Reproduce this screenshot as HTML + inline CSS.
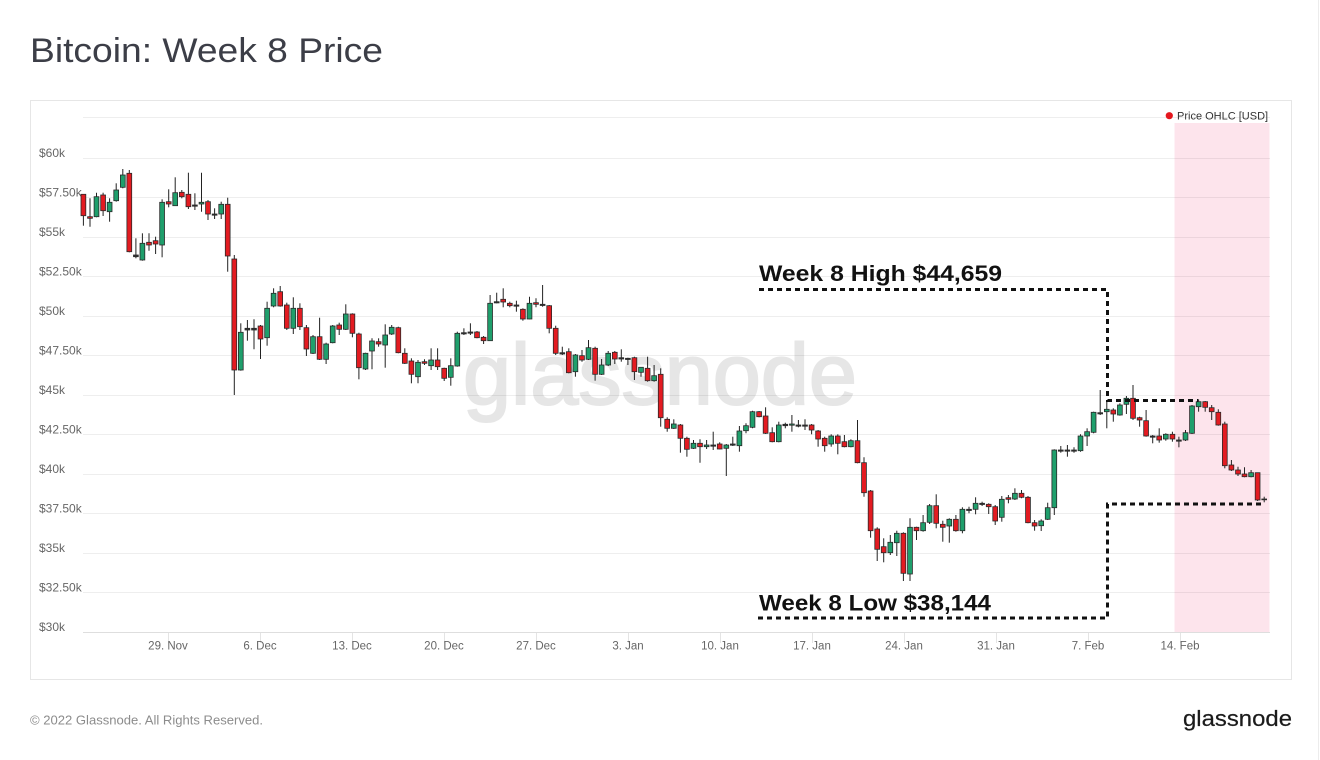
<!DOCTYPE html>
<html><head><meta charset="utf-8"><style>
html,body{margin:0;padding:0;background:#fff;}
body{width:1320px;height:760px;overflow:hidden;}
svg{display:block;font-family:"Liberation Sans",Arial,sans-serif;}
.cd path{stroke:#222;stroke-width:1;fill:none;}
.cd rect{stroke:#2a2a2a;stroke-width:.8;}
.r{fill:#e31b21;}
.g{fill:#1f9f6c;}
.d{fill:#333;}
.yl{font-size:12px;fill:#666;}
.xl{font-size:11.5px;fill:#666;text-anchor:middle;}
</style></head><body>
<svg width="1320" height="760" viewBox="0 0 1320 760" xmlns="http://www.w3.org/2000/svg">
<rect width="1320" height="760" fill="#fff"/>
<line x1="1318.5" y1="0" x2="1318.5" y2="760" stroke="#ececec"/>
<text x="30" y="62" font-size="34" fill="#3c3e47" textLength="353" lengthAdjust="spacingAndGlyphs">Bitcoin: Week 8 Price</text>
<rect x="30.5" y="100.5" width="1261" height="579" fill="none" stroke="#e6e6e6"/>
<rect x="1174.5" y="123" width="95" height="509.5" fill="#fde4ec"/>
<text x="463" y="404" font-size="86" fill="#e6e6e6" stroke="#e6e6e6" stroke-width="2" textLength="394" lengthAdjust="spacingAndGlyphs">glassnode</text>
<g stroke="#000" stroke-opacity="0.065" stroke-width="1">
<line x1="83" x2="1270" y1="117.5" y2="117.5"/>
<line x1="83" x2="1270" y1="158.5" y2="158.5"/>
<line x1="83" x2="1270" y1="197.5" y2="197.5"/>
<line x1="83" x2="1270" y1="237.5" y2="237.5"/>
<line x1="83" x2="1270" y1="276.5" y2="276.5"/>
<line x1="83" x2="1270" y1="316.5" y2="316.5"/>
<line x1="83" x2="1270" y1="355.5" y2="355.5"/>
<line x1="83" x2="1270" y1="395.5" y2="395.5"/>
<line x1="83" x2="1270" y1="434.5" y2="434.5"/>
<line x1="83" x2="1270" y1="474.5" y2="474.5"/>
<line x1="83" x2="1270" y1="513.5" y2="513.5"/>
<line x1="83" x2="1270" y1="553.5" y2="553.5"/>
<line x1="83" x2="1270" y1="592.5" y2="592.5"/>
</g>
<line x1="83" x2="1270" y1="632.5" y2="632.5" stroke="#dedede"/>
<g stroke="#e4e4e4">
<line x1="168.5" x2="168.5" y1="633" y2="643"/><line x1="260.5" x2="260.5" y1="633" y2="643"/>
<line x1="352.5" x2="352.5" y1="633" y2="643"/><line x1="444.5" x2="444.5" y1="633" y2="643"/>
<line x1="536.5" x2="536.5" y1="633" y2="643"/><line x1="628.5" x2="628.5" y1="633" y2="643"/>
<line x1="720.5" x2="720.5" y1="633" y2="643"/><line x1="812.5" x2="812.5" y1="633" y2="643"/>
<line x1="904.5" x2="904.5" y1="633" y2="643"/><line x1="996.5" x2="996.5" y1="633" y2="643"/>
<line x1="1088.5" x2="1088.5" y1="633" y2="643"/><line x1="1180.5" x2="1180.5" y1="633" y2="643"/>
</g>
<text class="yl" x="39" y="157">$60k</text>
<text class="yl" x="39" y="196.5">$57.50k</text>
<text class="yl" x="39" y="236">$55k</text>
<text class="yl" x="39" y="275.5">$52.50k</text>
<text class="yl" x="39" y="315">$50k</text>
<text class="yl" x="39" y="354.5">$47.50k</text>
<text class="yl" x="39" y="394">$45k</text>
<text class="yl" x="39" y="433.5">$42.50k</text>
<text class="yl" x="39" y="473">$40k</text>
<text class="yl" x="39" y="512.5">$37.50k</text>
<text class="yl" x="39" y="552">$35k</text>
<text class="yl" x="39" y="591.5">$32.50k</text>
<text class="yl" x="39" y="631">$30k</text>
<text class="xl" x="168" y="649.5">29. Nov</text>
<text class="xl" x="260" y="649.5">6. Dec</text>
<text class="xl" x="352" y="649.5">13. Dec</text>
<text class="xl" x="444" y="649.5">20. Dec</text>
<text class="xl" x="536" y="649.5">27. Dec</text>
<text class="xl" x="628" y="649.5">3. Jan</text>
<text class="xl" x="720" y="649.5">10. Jan</text>
<text class="xl" x="812" y="649.5">17. Jan</text>
<text class="xl" x="904" y="649.5">24. Jan</text>
<text class="xl" x="996" y="649.5">31. Jan</text>
<text class="xl" x="1088" y="649.5">7. Feb</text>
<text class="xl" x="1180" y="649.5">14. Feb</text>
<circle cx="1169.3" cy="115.7" r="3.6" fill="#e5171e"/>
<text x="1177" y="119.5" font-size="11" fill="#333">Price OHLC [USD]</text>
<g class="cd">
<g transform="translate(83.4)"><path d="M0 194.3V225.7"/><rect x="-2.4" width="4.8" class="r" y="194.3" height="21.4"/></g>
<g transform="translate(90.0)"><path d="M0 198.3V226.7"/><rect x="-2.4" width="4.8" class="r" y="216.7" height="1.6"/></g>
<g transform="translate(96.5)"><path d="M0 192.7V217.3"/><rect x="-2.4" width="4.8" class="g" y="196.7" height="20"/></g>
<g transform="translate(103.1)"><path d="M0 192.7V216"/><rect x="-2.4" width="4.8" class="r" y="195" height="15.7"/></g>
<g transform="translate(109.6)"><path d="M0 198.3V221.7"/><rect x="-2.4" width="4.8" class="g" y="202.3" height="9.4"/></g>
<g transform="translate(116.2)"><path d="M0 183.3V201.7"/><rect x="-2.4" width="4.8" class="g" y="190" height="10.7"/></g>
<g transform="translate(122.8)"><path d="M0 169V188.3"/><rect x="-2.4" width="4.8" class="g" y="175" height="12.3"/></g>
<g transform="translate(129.3)"><path d="M0 170V252.3"/><rect x="-2.4" width="4.8" class="r" y="173.3" height="78.4"/></g>
<g transform="translate(135.9)"><path d="M0 238.3V258.3"/><rect x="-2.4" width="4.8" class="d" y="255" height="1.7"/></g>
<g transform="translate(142.4)"><path d="M0 233.3V260.7"/><rect x="-2.4" width="4.8" class="g" y="243.3" height="16.7"/></g>
<g transform="translate(149.0)"><path d="M0 233.3V250.7"/><rect x="-2.4" width="4.8" class="r" y="242.3" height="2.7"/></g>
<g transform="translate(155.6)"><path d="M0 236.7V254"/><rect x="-2.4" width="4.8" class="r" y="240.7" height="3.3"/></g>
<g transform="translate(162.1)"><path d="M0 199.3V257.3"/><rect x="-2.4" width="4.8" class="g" y="202.3" height="42.7"/></g>
<g transform="translate(168.7)"><path d="M0 189.3V207.3"/><rect x="-2.4" width="4.8" class="r" y="201.7" height="2.3"/></g>
<g transform="translate(175.2)"><path d="M0 177.3V206"/><rect x="-2.4" width="4.8" class="g" y="192.7" height="13"/></g>
<g transform="translate(181.8)"><path d="M0 190V198.3"/><rect x="-2.4" width="4.8" class="r" y="192.3" height="4.4"/></g>
<g transform="translate(188.4)"><path d="M0 172.7V209"/><rect x="-2.4" width="4.8" class="r" y="194.3" height="12.4"/></g>
<g transform="translate(194.9)"><path d="M0 193.3V210"/><rect x="-2.4" width="4.8" class="d" y="205" height="1.2"/></g>
<g transform="translate(201.5)"><path d="M0 172.7V211.7"/><rect x="-2.4" width="4.8" class="g" y="202.3" height="1.7"/></g>
<g transform="translate(208.0)"><path d="M0 200V220"/><rect x="-2.4" width="4.8" class="r" y="201.7" height="12.3"/></g>
<g transform="translate(214.6)"><path d="M0 208.3V219"/><rect x="-2.4" width="4.8" class="d" y="214" height="1.2"/></g>
<g transform="translate(221.2)"><path d="M0 201.7V219"/><rect x="-2.4" width="4.8" class="g" y="204.3" height="9.7"/></g>
<g transform="translate(227.7)"><path d="M0 197.7V271.7"/><rect x="-2.4" width="4.8" class="r" y="204.3" height="51.7"/></g>
<g transform="translate(234.3)"><path d="M0 255V395"/><rect x="-2.4" width="4.8" class="r" y="259" height="111"/></g>
<g transform="translate(240.8)"><path d="M0 323.3V370.7"/><rect x="-2.4" width="4.8" class="g" y="332.3" height="37.7"/></g>
<g transform="translate(247.4)"><path d="M0 320V340.7"/><rect x="-2.4" width="4.8" class="d" y="328.3" height="1.7"/></g>
<g transform="translate(254.0)"><path d="M0 319.3V349.3"/><rect x="-2.4" width="4.8" class="d" y="328.3" height="1.7"/></g>
<g transform="translate(260.5)"><path d="M0 325V359"/><rect x="-2.4" width="4.8" class="r" y="326" height="13"/></g>
<g transform="translate(267.1)"><path d="M0 301.7V345.7"/><rect x="-2.4" width="4.8" class="g" y="308.3" height="29.4"/></g>
<g transform="translate(273.6)"><path d="M0 288.3V307.3"/><rect x="-2.4" width="4.8" class="g" y="293.3" height="12.7"/></g>
<g transform="translate(280.2)"><path d="M0 286V306.7"/><rect x="-2.4" width="4.8" class="r" y="291.7" height="14.3"/></g>
<g transform="translate(286.8)"><path d="M0 302.7V330"/><rect x="-2.4" width="4.8" class="r" y="305" height="23.3"/></g>
<g transform="translate(293.3)"><path d="M0 297.3V334"/><rect x="-2.4" width="4.8" class="g" y="308.3" height="20"/></g>
<g transform="translate(299.9)"><path d="M0 303.3V330"/><rect x="-2.4" width="4.8" class="r" y="308.3" height="18.4"/></g>
<g transform="translate(306.4)"><path d="M0 325V356"/><rect x="-2.4" width="4.8" class="r" y="327.7" height="21.3"/></g>
<g transform="translate(313.0)"><path d="M0 335V354"/><rect x="-2.4" width="4.8" class="g" y="336.7" height="16.6"/></g>
<g transform="translate(319.6)"><path d="M0 317.7V360"/><rect x="-2.4" width="4.8" class="r" y="336.7" height="22.6"/></g>
<g transform="translate(326.1)"><path d="M0 342.7V364"/><rect x="-2.4" width="4.8" class="g" y="344" height="15.3"/></g>
<g transform="translate(332.7)"><path d="M0 325V343.3"/><rect x="-2.4" width="4.8" class="g" y="326" height="16.7"/></g>
<g transform="translate(339.2)"><path d="M0 322.7V335"/><rect x="-2.4" width="4.8" class="r" y="325" height="4.3"/></g>
<g transform="translate(345.8)"><path d="M0 304.3V330"/><rect x="-2.4" width="4.8" class="g" y="314" height="15.3"/></g>
<g transform="translate(352.4)"><path d="M0 313.3V337.3"/><rect x="-2.4" width="4.8" class="r" y="314" height="19.3"/></g>
<g transform="translate(358.9)"><path d="M0 332.7V379.3"/><rect x="-2.4" width="4.8" class="r" y="334" height="33.7"/></g>
<g transform="translate(365.5)"><path d="M0 352.7V370"/><rect x="-2.4" width="4.8" class="g" y="353.3" height="15.7"/></g>
<g transform="translate(372.0)"><path d="M0 338.3V369.3"/><rect x="-2.4" width="4.8" class="g" y="341" height="10"/></g>
<g transform="translate(378.6)"><path d="M0 338.3V346.7"/><rect x="-2.4" width="4.8" class="r" y="341.7" height="2.3"/></g>
<g transform="translate(385.2)"><path d="M0 324.3V367.7"/><rect x="-2.4" width="4.8" class="g" y="335" height="10"/></g>
<g transform="translate(391.7)"><path d="M0 325V335"/><rect x="-2.4" width="4.8" class="g" y="327.3" height="6.7"/></g>
<g transform="translate(398.3)"><path d="M0 326.7V353.3"/><rect x="-2.4" width="4.8" class="r" y="327.7" height="25"/></g>
<g transform="translate(404.8)"><path d="M0 348.3V364"/><rect x="-2.4" width="4.8" class="r" y="353.3" height="10"/></g>
<g transform="translate(411.4)"><path d="M0 358.3V383.3"/><rect x="-2.4" width="4.8" class="r" y="361" height="13.3"/></g>
<g transform="translate(418.0)"><path d="M0 360V383.3"/><rect x="-2.4" width="4.8" class="g" y="362.3" height="14.4"/></g>
<g transform="translate(424.5)"><path d="M0 359.3V365"/><rect x="-2.4" width="4.8" class="r" y="361.7" height="1.6"/></g>
<g transform="translate(431.1)"><path d="M0 348.3V370"/><rect x="-2.4" width="4.8" class="g" y="360" height="5.7"/></g>
<g transform="translate(437.6)"><path d="M0 348.3V370"/><rect x="-2.4" width="4.8" class="r" y="360" height="6.7"/></g>
<g transform="translate(444.2)"><path d="M0 367.7V381"/><rect x="-2.4" width="4.8" class="r" y="368.3" height="10"/></g>
<g transform="translate(450.8)"><path d="M0 358.3V385.7"/><rect x="-2.4" width="4.8" class="g" y="365.7" height="11.6"/></g>
<g transform="translate(457.3)"><path d="M0 331.7V366.7"/><rect x="-2.4" width="4.8" class="g" y="333.3" height="32.7"/></g>
<g transform="translate(463.9)"><path d="M0 328.3V335"/><rect x="-2.4" width="4.8" class="d" y="332.7" height="1.2"/></g>
<g transform="translate(470.4)"><path d="M0 323.3V335"/><rect x="-2.4" width="4.8" class="d" y="332" height="1.2"/></g>
<g transform="translate(477.0)"><path d="M0 331V338.3"/><rect x="-2.4" width="4.8" class="r" y="332" height="5.7"/></g>
<g transform="translate(483.6)"><path d="M0 336V344"/><rect x="-2.4" width="4.8" class="r" y="337.3" height="3.4"/></g>
<g transform="translate(490.1)"><path d="M0 295V341"/><rect x="-2.4" width="4.8" class="g" y="303.3" height="37.4"/></g>
<g transform="translate(496.7)"><path d="M0 292.7V303.3"/><rect x="-2.4" width="4.8" class="d" y="301.7" height="1.2"/></g>
<g transform="translate(503.2)"><path d="M0 288.3V307.3"/><rect x="-2.4" width="4.8" class="r" y="299.3" height="2.7"/></g>
<g transform="translate(509.8)"><path d="M0 301.7V307.3"/><rect x="-2.4" width="4.8" class="r" y="303.3" height="2.4"/></g>
<g transform="translate(516.4)"><path d="M0 300.7V311.7"/><rect x="-2.4" width="4.8" class="d" y="305" height="1.2"/></g>
<g transform="translate(522.9)"><path d="M0 308.3V320.7"/><rect x="-2.4" width="4.8" class="r" y="309.3" height="9.7"/></g>
<g transform="translate(529.5)"><path d="M0 296.7V319.3"/><rect x="-2.4" width="4.8" class="g" y="303.3" height="15.7"/></g>
<g transform="translate(536.0)"><path d="M0 298.3V307.3"/><rect x="-2.4" width="4.8" class="r" y="302.7" height="1.6"/></g>
<g transform="translate(542.6)"><path d="M0 285V306.7"/><rect x="-2.4" width="4.8" class="d" y="304.3" height="1.2"/></g>
<g transform="translate(549.2)"><path d="M0 305V333.3"/><rect x="-2.4" width="4.8" class="r" y="305.7" height="22.6"/></g>
<g transform="translate(555.7)"><path d="M0 325.7V355"/><rect x="-2.4" width="4.8" class="r" y="328.3" height="25"/></g>
<g transform="translate(562.3)"><path d="M0 346.7V355"/><rect x="-2.4" width="4.8" class="d" y="352.7" height="1.3"/></g>
<g transform="translate(568.8)"><path d="M0 348.3V373.3"/><rect x="-2.4" width="4.8" class="r" y="351.7" height="21"/></g>
<g transform="translate(575.4)"><path d="M0 354V376.7"/><rect x="-2.4" width="4.8" class="g" y="355" height="16.7"/></g>
<g transform="translate(582.0)"><path d="M0 350V361.7"/><rect x="-2.4" width="4.8" class="r" y="355.7" height="4.3"/></g>
<g transform="translate(588.5)"><path d="M0 340V360"/><rect x="-2.4" width="4.8" class="g" y="347.7" height="11.6"/></g>
<g transform="translate(595.1)"><path d="M0 346.7V380.7"/><rect x="-2.4" width="4.8" class="r" y="348.3" height="26"/></g>
<g transform="translate(601.6)"><path d="M0 359V375"/><rect x="-2.4" width="4.8" class="g" y="365" height="9.3"/></g>
<g transform="translate(608.2)"><path d="M0 351V366"/><rect x="-2.4" width="4.8" class="g" y="353.3" height="11.7"/></g>
<g transform="translate(614.8)"><path d="M0 351V364"/><rect x="-2.4" width="4.8" class="r" y="352.3" height="6.7"/></g>
<g transform="translate(621.3)"><path d="M0 349.3V361.7"/><rect x="-2.4" width="4.8" class="d" y="357.7" height="1.3"/></g>
<g transform="translate(627.9)"><path d="M0 357.7V365"/><rect x="-2.4" width="4.8" class="d" y="358.3" height="1.2"/></g>
<g transform="translate(634.4)"><path d="M0 356.7V380"/><rect x="-2.4" width="4.8" class="r" y="357.7" height="14"/></g>
<g transform="translate(641.0)"><path d="M0 367.3V376.7"/><rect x="-2.4" width="4.8" class="g" y="367.3" height="5"/></g>
<g transform="translate(647.6)"><path d="M0 356.7V381.7"/><rect x="-2.4" width="4.8" class="r" y="368.3" height="12.4"/></g>
<g transform="translate(654.1)"><path d="M0 365V381.7"/><rect x="-2.4" width="4.8" class="g" y="375.7" height="5"/></g>
<g transform="translate(660.7)"><path d="M0 368.3V426.7"/><rect x="-2.4" width="4.8" class="r" y="374.3" height="43.4"/></g>
<g transform="translate(667.2)"><path d="M0 417.3V431.7"/><rect x="-2.4" width="4.8" class="r" y="419.3" height="9"/></g>
<g transform="translate(673.8)"><path d="M0 419.3V429"/><rect x="-2.4" width="4.8" class="g" y="424" height="4.3"/></g>
<g transform="translate(680.4)"><path d="M0 424V452.7"/><rect x="-2.4" width="4.8" class="r" y="425" height="13.3"/></g>
<g transform="translate(686.9)"><path d="M0 436.7V456.7"/><rect x="-2.4" width="4.8" class="r" y="438.3" height="11"/></g>
<g transform="translate(693.5)"><path d="M0 440V449"/><rect x="-2.4" width="4.8" class="g" y="443.3" height="5"/></g>
<g transform="translate(700.0)"><path d="M0 439.3V462.7"/><rect x="-2.4" width="4.8" class="r" y="443.3" height="3.4"/></g>
<g transform="translate(706.6)"><path d="M0 440V449"/><rect x="-2.4" width="4.8" class="g" y="445" height="1.7"/></g>
<g transform="translate(713.2)"><path d="M0 431.7V450"/><rect x="-2.4" width="4.8" class="d" y="445" height="1.2"/></g>
<g transform="translate(719.7)"><path d="M0 442.3V449.3"/><rect x="-2.4" width="4.8" class="r" y="444" height="5"/></g>
<g transform="translate(726.3)"><path d="M0 444V476"/><rect x="-2.4" width="4.8" class="g" y="445" height="3.3"/></g>
<g transform="translate(732.8)"><path d="M0 436.7V446"/><rect x="-2.4" width="4.8" class="d" y="444" height="1.2"/></g>
<g transform="translate(739.4)"><path d="M0 426V451.7"/><rect x="-2.4" width="4.8" class="g" y="431" height="14.7"/></g>
<g transform="translate(746.0)"><path d="M0 423.3V433.3"/><rect x="-2.4" width="4.8" class="g" y="425.7" height="5"/></g>
<g transform="translate(752.5)"><path d="M0 410.7V428.3"/><rect x="-2.4" width="4.8" class="g" y="411.7" height="15.6"/></g>
<g transform="translate(759.1)"><path d="M0 411V417.3"/><rect x="-2.4" width="4.8" class="r" y="411.7" height="5"/></g>
<g transform="translate(765.6)"><path d="M0 407.3V434"/><rect x="-2.4" width="4.8" class="r" y="416" height="17.3"/></g>
<g transform="translate(772.2)"><path d="M0 427.3V442.3"/><rect x="-2.4" width="4.8" class="r" y="432.7" height="9"/></g>
<g transform="translate(778.8)"><path d="M0 421.7V442.3"/><rect x="-2.4" width="4.8" class="g" y="425" height="16.7"/></g>
<g transform="translate(785.3)"><path d="M0 422.7V428.3"/><rect x="-2.4" width="4.8" class="d" y="424.3" height="1.4"/></g>
<g transform="translate(791.9)"><path d="M0 415V431.7"/><rect x="-2.4" width="4.8" class="g" y="424" height="1.2"/></g>
<g transform="translate(798.4)"><path d="M0 420V427.3"/><rect x="-2.4" width="4.8" class="d" y="425" height="1.2"/></g>
<g transform="translate(805.0)"><path d="M0 419.3V430"/><rect x="-2.4" width="4.8" class="d" y="425" height="1.2"/></g>
<g transform="translate(811.6)"><path d="M0 424V434.3"/><rect x="-2.4" width="4.8" class="r" y="425" height="5"/></g>
<g transform="translate(818.1)"><path d="M0 430V446.7"/><rect x="-2.4" width="4.8" class="r" y="431" height="8"/></g>
<g transform="translate(824.7)"><path d="M0 436.7V451.7"/><rect x="-2.4" width="4.8" class="r" y="438.3" height="7.4"/></g>
<g transform="translate(831.2)"><path d="M0 434.3V446.7"/><rect x="-2.4" width="4.8" class="g" y="436" height="8"/></g>
<g transform="translate(837.8)"><path d="M0 434.3V454.3"/><rect x="-2.4" width="4.8" class="r" y="436" height="7.3"/></g>
<g transform="translate(844.4)"><path d="M0 435V447.3"/><rect x="-2.4" width="4.8" class="r" y="441.7" height="5"/></g>
<g transform="translate(850.9)"><path d="M0 439.3V447.3"/><rect x="-2.4" width="4.8" class="g" y="440.7" height="6"/></g>
<g transform="translate(857.5)"><path d="M0 420V463.3"/><rect x="-2.4" width="4.8" class="r" y="440.7" height="22"/></g>
<g transform="translate(864.0)"><path d="M0 457.3V496.7"/><rect x="-2.4" width="4.8" class="r" y="462.7" height="30"/></g>
<g transform="translate(870.6)"><path d="M0 490V537.7"/><rect x="-2.4" width="4.8" class="r" y="491" height="39.7"/></g>
<g transform="translate(877.2)"><path d="M0 527.3V561"/><rect x="-2.4" width="4.8" class="r" y="529" height="20.3"/></g>
<g transform="translate(883.7)"><path d="M0 538.3V562.3"/><rect x="-2.4" width="4.8" class="r" y="546.7" height="6"/></g>
<g transform="translate(890.3)"><path d="M0 535V555"/><rect x="-2.4" width="4.8" class="g" y="542.3" height="10.4"/></g>
<g transform="translate(896.8)"><path d="M0 530.7V556"/><rect x="-2.4" width="4.8" class="g" y="533.3" height="9.4"/></g>
<g transform="translate(903.4)"><path d="M0 532.3V581"/><rect x="-2.4" width="4.8" class="r" y="533.3" height="40"/></g>
<g transform="translate(910.0)"><path d="M0 518.3V581"/><rect x="-2.4" width="4.8" class="g" y="527.3" height="46.7"/></g>
<g transform="translate(916.5)"><path d="M0 526.7V540"/><rect x="-2.4" width="4.8" class="r" y="527.3" height="3.4"/></g>
<g transform="translate(923.1)"><path d="M0 515V531.7"/><rect x="-2.4" width="4.8" class="g" y="522.7" height="8"/></g>
<g transform="translate(929.6)"><path d="M0 504V524"/><rect x="-2.4" width="4.8" class="g" y="505.7" height="16.6"/></g>
<g transform="translate(936.2)"><path d="M0 494.3V528.3"/><rect x="-2.4" width="4.8" class="r" y="505.7" height="17.6"/></g>
<g transform="translate(942.8)"><path d="M0 520.7V541.7"/><rect x="-2.4" width="4.8" class="r" y="524.3" height="3"/></g>
<g transform="translate(949.3)"><path d="M0 518.3V542.7"/><rect x="-2.4" width="4.8" class="g" y="519.3" height="6.7"/></g>
<g transform="translate(955.9)"><path d="M0 515V531.7"/><rect x="-2.4" width="4.8" class="r" y="519.3" height="11.4"/></g>
<g transform="translate(962.4)"><path d="M0 507.3V533.3"/><rect x="-2.4" width="4.8" class="g" y="509.3" height="21.4"/></g>
<g transform="translate(969.0)"><path d="M0 506.7V513.3"/><rect x="-2.4" width="4.8" class="d" y="509.3" height="1.2"/></g>
<g transform="translate(975.6)"><path d="M0 497.3V514.3"/><rect x="-2.4" width="4.8" class="g" y="503.3" height="6"/></g>
<g transform="translate(982.1)"><path d="M0 501.7V506"/><rect x="-2.4" width="4.8" class="d" y="503.3" height="1.2"/></g>
<g transform="translate(988.7)"><path d="M0 503.3V514"/><rect x="-2.4" width="4.8" class="r" y="504.3" height="2.4"/></g>
<g transform="translate(995.2)"><path d="M0 505V525"/><rect x="-2.4" width="4.8" class="r" y="506.7" height="14.3"/></g>
<g transform="translate(1001.8)"><path d="M0 496V521.7"/><rect x="-2.4" width="4.8" class="g" y="499.3" height="18"/></g>
<g transform="translate(1008.4)"><path d="M0 495V503.3"/><rect x="-2.4" width="4.8" class="r" y="497.7" height="1.6"/></g>
<g transform="translate(1014.9)"><path d="M0 488.3V500"/><rect x="-2.4" width="4.8" class="g" y="493.3" height="5.7"/></g>
<g transform="translate(1021.5)"><path d="M0 490V498.3"/><rect x="-2.4" width="4.8" class="r" y="493.3" height="4"/></g>
<g transform="translate(1028.0)"><path d="M0 496V523.3"/><rect x="-2.4" width="4.8" class="r" y="497.3" height="25.4"/></g>
<g transform="translate(1034.6)"><path d="M0 520V530.7"/><rect x="-2.4" width="4.8" class="r" y="522.7" height="3.3"/></g>
<g transform="translate(1041.2)"><path d="M0 519.3V531"/><rect x="-2.4" width="4.8" class="g" y="521" height="4.7"/></g>
<g transform="translate(1047.7)"><path d="M0 502.7V520"/><rect x="-2.4" width="4.8" class="g" y="507.7" height="11.6"/></g>
<g transform="translate(1054.3)"><path d="M0 449.3V515"/><rect x="-2.4" width="4.8" class="g" y="450" height="57.7"/></g>
<g transform="translate(1060.8)"><path d="M0 446V452.7"/><rect x="-2.4" width="4.8" class="d" y="450" height="1.2"/></g>
<g transform="translate(1067.4)"><path d="M0 445V456.7"/><rect x="-2.4" width="4.8" class="d" y="450" height="1.2"/></g>
<g transform="translate(1074.0)"><path d="M0 447.3V452.7"/><rect x="-2.4" width="4.8" class="d" y="450" height="1.2"/></g>
<g transform="translate(1080.5)"><path d="M0 434.3V451.7"/><rect x="-2.4" width="4.8" class="g" y="436" height="14.7"/></g>
<g transform="translate(1087.1)"><path d="M0 428.3V446"/><rect x="-2.4" width="4.8" class="g" y="431.7" height="4.3"/></g>
<g transform="translate(1093.6)"><path d="M0 411.7V433.3"/><rect x="-2.4" width="4.8" class="g" y="412.3" height="20"/></g>
<g transform="translate(1100.2)"><path d="M0 390V415"/><rect x="-2.4" width="4.8" class="d" y="412.7" height="1.2"/></g>
<g transform="translate(1106.8)"><path d="M0 401.7V428.3"/><rect x="-2.4" width="4.8" class="g" y="409.3" height="2.4"/></g>
<g transform="translate(1113.3)"><path d="M0 408.3V421.7"/><rect x="-2.4" width="4.8" class="r" y="410" height="4"/></g>
<g transform="translate(1119.9)"><path d="M0 403.3V415.7"/><rect x="-2.4" width="4.8" class="g" y="405" height="10"/></g>
<g transform="translate(1126.4)"><path d="M0 396V414"/><rect x="-2.4" width="4.8" class="g" y="398.3" height="6"/></g>
<g transform="translate(1133.0)"><path d="M0 385V420"/><rect x="-2.4" width="4.8" class="r" y="398.3" height="20"/></g>
<g transform="translate(1139.6)"><path d="M0 416.7V426.7"/><rect x="-2.4" width="4.8" class="r" y="417.7" height="2.3"/></g>
<g transform="translate(1146.1)"><path d="M0 410V436.7"/><rect x="-2.4" width="4.8" class="r" y="420.7" height="15.3"/></g>
<g transform="translate(1152.7)"><path d="M0 435V443.3"/><rect x="-2.4" width="4.8" class="d" y="436" height="1.2"/></g>
<g transform="translate(1159.2)"><path d="M0 428.3V442.7"/><rect x="-2.4" width="4.8" class="r" y="436" height="4"/></g>
<g transform="translate(1165.8)"><path d="M0 433.3V440.7"/><rect x="-2.4" width="4.8" class="g" y="434.3" height="4.7"/></g>
<g transform="translate(1172.4)"><path d="M0 431.7V441.7"/><rect x="-2.4" width="4.8" class="r" y="434.3" height="4.7"/></g>
<g transform="translate(1178.9)"><path d="M0 436.7V447.3"/><rect x="-2.4" width="4.8" class="d" y="440" height="1.2"/></g>
<g transform="translate(1185.5)"><path d="M0 430V441"/><rect x="-2.4" width="4.8" class="g" y="432.7" height="7.3"/></g>
<g transform="translate(1192.0)"><path d="M0 405V434"/><rect x="-2.4" width="4.8" class="g" y="406" height="27.3"/></g>
<g transform="translate(1198.6)"><path d="M0 399.3V411.7"/><rect x="-2.4" width="4.8" class="g" y="401.7" height="5"/></g>
<g transform="translate(1205.2)"><path d="M0 401V411.7"/><rect x="-2.4" width="4.8" class="r" y="401.7" height="5.6"/></g>
<g transform="translate(1211.7)"><path d="M0 405V420"/><rect x="-2.4" width="4.8" class="r" y="407.7" height="4"/></g>
<g transform="translate(1218.3)"><path d="M0 409.3V425.7"/><rect x="-2.4" width="4.8" class="r" y="412.3" height="12.7"/></g>
<g transform="translate(1224.8)"><path d="M0 421.7V468.3"/><rect x="-2.4" width="4.8" class="r" y="424" height="41.7"/></g>
<g transform="translate(1231.4)"><path d="M0 460V471"/><rect x="-2.4" width="4.8" class="r" y="465" height="5"/></g>
<g transform="translate(1238.0)"><path d="M0 466.7V476"/><rect x="-2.4" width="4.8" class="r" y="470" height="4"/></g>
<g transform="translate(1244.5)"><path d="M0 467.3V477.3"/><rect x="-2.4" width="4.8" class="r" y="474" height="2.7"/></g>
<g transform="translate(1251.1)"><path d="M0 470V477.3"/><rect x="-2.4" width="4.8" class="g" y="472.7" height="4"/></g>
<g transform="translate(1257.6)"><path d="M0 472.7V501"/><rect x="-2.4" width="4.8" class="r" y="472.7" height="27.3"/></g>
<g transform="translate(1264.2)"><path d="M0 496.7V502.3"/><rect x="-2.4" width="4.8" class="d" y="499" height="0.8"/></g>
</g>
<g fill="none" stroke="#111" stroke-width="3" stroke-dasharray="5 4">
<path d="M759 289.5H1107.5V400.5H1198"/>
<path d="M758 618H1107.5V504H1265"/>
</g>
<text x="759" y="281" font-size="22" font-weight="bold" fill="#111" textLength="243" lengthAdjust="spacingAndGlyphs">Week 8 High $44,659</text>
<text x="759" y="610.5" font-size="22" font-weight="bold" fill="#111" textLength="232" lengthAdjust="spacingAndGlyphs">Week 8 Low $38,144</text>
<text x="30" y="724.5" font-size="12.5" fill="#8c8c8c" textLength="233" lengthAdjust="spacingAndGlyphs">© 2022 Glassnode. All Rights Reserved.</text>
<text x="1183" y="726" font-size="22" fill="#1b1b1b" stroke="#1b1b1b" stroke-width="0.2" textLength="109" lengthAdjust="spacingAndGlyphs">glassnode</text>
</svg>
</body></html>
